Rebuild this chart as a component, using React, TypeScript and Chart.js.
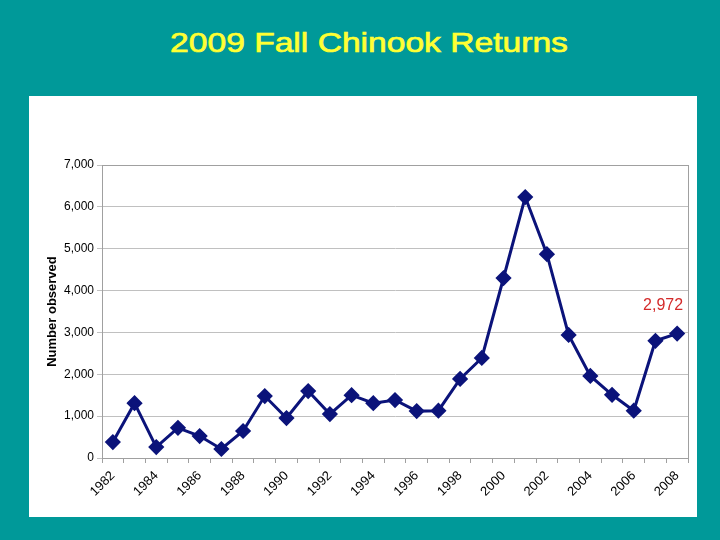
import React, { useEffect, useRef } from "react";
import { Chart, registerables } from "chart.js";

Chart.register(...registerables);

const years: string[] = [
  "1982", "1983", "1984", "1985", "1986", "1987", "1988", "1989", "1990",
  "1991", "1992", "1993", "1994", "1995", "1996", "1997", "1998", "1999",
  "2000", "2001", "2002", "2003", "2004", "2005", "2006", "2007", "2008",
];
const returns: number[] = [
  380, 1310, 260, 720, 525, 215, 645, 1480, 955,
  1600, 1050, 1500, 1310, 1385, 1120, 1130, 1890, 2390,
  4300, 6235, 4870, 2940, 1960, 1510, 1130, 2800, 2972,
];
const titleText = "2009 Fall Chinook Returns";
const yAxisTitle = "Number observed";
const annotationText = "2,972";

const frameAndLabel = {
  id: "frameAndLabel",
  afterDatasetsDraw(chart: any) {
    const { ctx, chartArea } = chart;
    ctx.save();
    ctx.strokeStyle = "#a0a0a0";
    ctx.lineWidth = 1;
    ctx.strokeRect(
      Math.round(chartArea.left) + 0.5,
      Math.round(chartArea.top) + 0.5,
      Math.round(chartArea.right - chartArea.left),
      Math.round(chartArea.bottom - chartArea.top)
    );
    const meta = chart.getDatasetMeta(0);
    const last = meta.data[meta.data.length - 1];
    ctx.fillStyle = "#d42a2a";
    ctx.font = "16px 'Liberation Sans', Arial, sans-serif";
    ctx.textAlign = "right";
    ctx.textBaseline = "middle";
    ctx.fillText(annotationText, last.x + 6, last.y - 28);
    ctx.restore();
  },
};

export default function App() {
  const canvasRef = useRef<HTMLCanvasElement | null>(null);

  useEffect(() => {
    if (!canvasRef.current) return;
    const chart = new Chart(canvasRef.current, {
      type: "line",
      data: {
        labels: years,
        datasets: [
          {
            data: returns,
            borderColor: "#0b137a",
            backgroundColor: "#0b137a",
            borderWidth: 3,
            pointStyle: "rectRot",
            pointRadius: 6,
            pointHoverRadius: 6,
            tension: 0,
          },
        ],
      },
      options: {
        animation: false,
        responsive: false,
        maintainAspectRatio: false,
        layout: { padding: { left: 16, top: 69, right: 7, bottom: 0 } },
        plugins: { legend: { display: false }, tooltip: { enabled: false } },
        scales: {
          x: {
            offset: true,
            grid: {
              display: true,
              offset: true,
              drawOnChartArea: false,
              drawTicks: true,
              tickLength: 5,
              color: "#a0a0a0",
            },
            border: { color: "#a0a0a0" },
            ticks: {
              autoSkip: false,
              minRotation: 45,
              maxRotation: 45,
              color: "#000",
              padding: 5,
              font: { family: "'Liberation Sans', Arial, sans-serif", size: 13 },
              callback: (_v: any, i: number) => (i % 2 === 0 ? years[i] : ""),
            },
            afterFit: (scale: any) => {
              scale.height = 59;
            },
          },
          y: {
            min: 0,
            max: 7000,
            grid: {
              color: "#c0c0c0",
              tickLength: 5,
              drawTicks: true,
            },
            border: { color: "#a0a0a0" },
            ticks: {
              stepSize: 1000,
              color: "#000",
              padding: 3,
              font: { family: "'Liberation Sans', Arial, sans-serif", size: 12 },
              callback: (v: any) => Number(v).toLocaleString("en-US"),
            },
            title: {
              display: true,
              text: yAxisTitle,
              color: "#000",
              font: { family: "'Liberation Sans', Arial, sans-serif", size: 13, weight: "bold" },
              padding: 0,
            },
            afterFit: (scale: any) => {
              scale.width = 57;
            },
          },
        },
      },
      plugins: [frameAndLabel],
    });
    return () => chart.destroy();
  }, []);

  return (
    <div
      style={{
        position: "fixed",
        left: 0,
        top: 0,
        width: 720,
        height: 540,
        background: "#009999",
        overflow: "hidden",
      }}
    >
      <div
        style={{
          position: "absolute",
          left: 0,
          width: 738,
          top: 27,
          textAlign: "center",
          color: "#ffff33",
          fontFamily: "'Liberation Sans', Arial, sans-serif",
          fontWeight: "normal",
          fontSize: 28,
          lineHeight: "32px",
          WebkitTextStroke: "0.7px #ffff33",
          transform: "scaleX(1.2)",
          transformOrigin: "369px 0",
        }}
      >
        {titleText}
      </div>
      <div
        style={{
          position: "absolute",
          left: 29,
          top: 96,
          width: 668,
          height: 421,
          background: "#ffffff",
        }}
      >
        <canvas ref={canvasRef} width={668} height={421} style={{ display: "block" }} />
      </div>
    </div>
  );
}
